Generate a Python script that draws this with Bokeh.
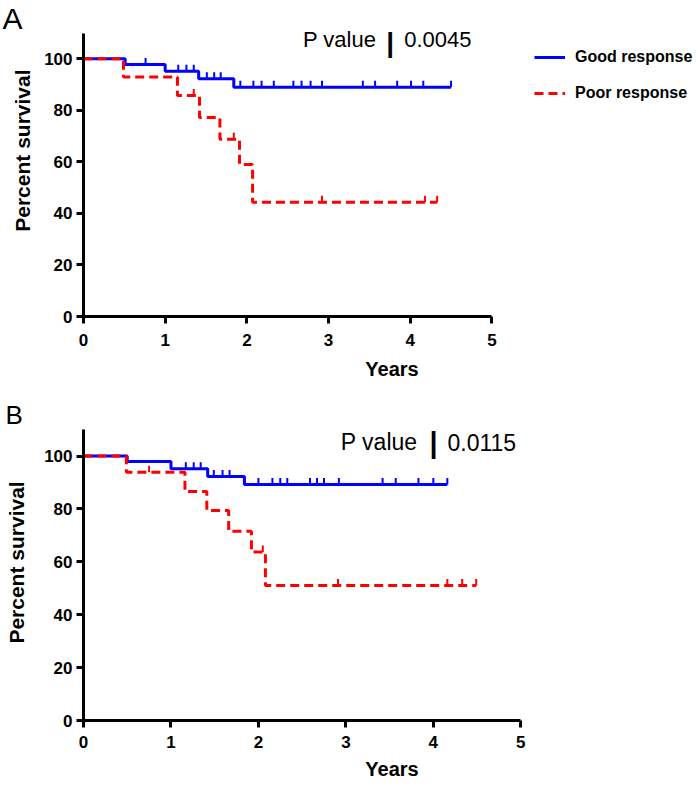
import numpy as np
from bokeh.plotting import figure
from bokeh.layouts import column, row
from bokeh.models import Range1d, FixedTicker, Label, Legend, LegendItem, ColumnDataSource
from bokeh.embed import file_html
from bokeh.resources import INLINE

# ---------------- data ----------------
# Panel A
a_good_t = [0, 0.51, 1.00, 1.41, 1.84, 4.50]
a_good_s = [100, 97.8, 95.2, 92.3, 89.0, 89.0]
a_good_cens = [0.76, 1.16, 1.26, 1.35, 1.51, 1.60, 1.68, 1.92, 2.08, 2.18, 2.33,
               2.57, 2.67, 2.78, 2.92, 3.42, 3.57, 3.84, 4.01, 4.16, 4.50]
a_poor_t = [0, 0.49, 1.15, 1.42, 1.67, 1.91, 2.07, 4.33]
a_poor_s = [100, 92.9, 85.8, 77.2, 68.8, 59.0, 44.3, 44.3]
a_poor_cens = [1.35, 1.84, 2.92, 4.18, 4.33]
a_pvalue = "0.0045"

# Panel B
b_good_t = [0, 0.50, 1.00, 1.42, 1.84, 4.16]
b_good_s = [100, 98.0, 95.2, 92.3, 89.3, 89.3]
b_good_cens = [1.17, 1.26, 1.34, 1.49, 1.59, 1.67, 2.00, 2.16, 2.25, 2.33, 2.59,
               2.67, 2.75, 2.92, 3.42, 3.57, 3.83, 4.00, 4.16]
b_poor_t = [0, 0.49, 1.16, 1.41, 1.66, 1.92, 2.08, 4.49]
b_poor_s = [100, 93.9, 86.6, 79.4, 71.6, 63.7, 51.1, 51.1]
b_poor_cens = [0.75, 2.05, 2.91, 4.16, 4.33, 4.49]
b_pvalue = "0.0115"

x_ticks = [0, 1, 2, 3, 4, 5]
y_ticks = [0, 20, 40, 60, 80, 100]
series_labels = ["Good response", "Poor response"]
x_title = "Years"
y_title = "Percent survival"

# ---------------- style ----------------
FONT = "Liberation Sans"
BLUE = "#0000ff"
RED = "#ff0000"
SIDE_W = 38
ROT_SHIFT = 44  # empirical offset of rotated, left-aligned label


def surv_at(ts, ss, c):
    ts = np.asarray(ts)
    ss = np.asarray(ss)
    idx = np.searchsorted(ts, c, side="right") - 1
    return ss[idx]


def make_side(height, letter, letter_x, letter_base, letter_size, ylab_x, ylab_start):
    """Narrow strip left of the axis holding the panel letter and the y title."""
    s = figure(width=SIDE_W, height=height, x_range=Range1d(0, SIDE_W),
               y_range=Range1d(0, height), x_axis_type=None, y_axis_type=None,
               output_backend="svg", toolbar_location=None,
               min_border_left=0, min_border_right=0, min_border_top=0,
               min_border_bottom=0)
    s.outline_line_color = None
    s.grid.visible = False
    s.background_fill_color = "white"
    s.border_fill_color = "white"
    s.add_layout(Label(x=letter_x, y=height - letter_base, text=letter,
                       text_font=FONT, text_font_size=letter_size,
                       text_color="black", text_baseline="alphabetic",
                       text_align="left"))
    s.add_layout(Label(x=ylab_x, y=height - ylab_start - ROT_SHIFT, text=y_title,
                       angle=np.pi / 2,
                       text_font=FONT, text_font_size="21px", text_font_style="bold",
                       text_color="black", text_baseline="middle",
                       text_align="left"))
    return s


def make_panel(good_t, good_s, good_c, poor_t, poor_s, poor_c, pval,
               xend, yend, height, bottom, tick_px, xlab_so, xtick_so,
               pv_x, pv_y, bar_x, bar_y, num_x, pv_size, bar_size, legend=False):
    p = figure(width=700 - SIDE_W, height=height,
               x_range=Range1d(0, xend), y_range=Range1d(0, yend),
               output_backend="svg", toolbar_location=None,
               min_border_left=83 - SIDE_W, min_border_right=0, min_border_top=0,
               min_border_bottom=bottom)
    p.outline_line_color = None
    p.grid.visible = False
    p.background_fill_color = "white"
    p.border_fill_color = "white"

    yscale = (height - bottom) / yend
    dy = tick_px / yscale

    # good response
    gl = p.step(good_t, good_s, mode="after", line_color=BLUE, line_width=3)
    gy = [float(surv_at(good_t, good_s, c)) for c in good_c]
    gsrc = ColumnDataSource(dict(x0=good_c, y0=gy, x1=good_c, y1=[v + dy for v in gy]))
    p.segment("x0", "y0", "x1", "y1", source=gsrc, line_color=BLUE, line_width=2)

    # poor response
    pl = p.step(poor_t, poor_s, mode="after", line_color=RED, line_width=3,
                line_dash="9 5")
    py = [float(surv_at(poor_t, poor_s, c)) for c in poor_c]
    psrc = ColumnDataSource(dict(x0=poor_c, y0=py, x1=poor_c, y1=[v + dy for v in py]))
    p.segment("x0", "y0", "x1", "y1", source=psrc, line_color=RED, line_width=2)

    # axes
    p.xaxis.bounds = (0, 5)
    p.yaxis.bounds = (0, 110)
    p.xaxis.ticker = FixedTicker(ticks=x_ticks)
    p.yaxis.ticker = FixedTicker(ticks=y_ticks)
    p.xaxis.axis_label = x_title
    for ax in (p.xaxis[0], p.yaxis[0]):
        ax.axis_line_width = 3
        ax.axis_line_color = "black"
        ax.major_tick_line_width = 3
        ax.major_tick_line_color = "black"
        ax.major_tick_out = 7
        ax.major_tick_in = 0
        ax.minor_tick_line_color = None
        ax.major_label_text_font = FONT
        ax.major_label_text_font_style = "bold"
        ax.major_label_text_font_size = "17px"
        ax.major_label_text_color = "black"
        ax.axis_label_text_font = FONT
        ax.axis_label_text_font_style = "bold"
        ax.axis_label_text_font_size = "20px"
        ax.axis_label_text_color = "black"
    p.xaxis.major_label_standoff = xtick_so
    p.yaxis.major_label_standoff = 4
    p.xaxis.axis_label_standoff = xlab_so

    # P value annotation
    p.add_layout(Label(x=pv_x, y=pv_y, text="P value", text_font=FONT,
                       text_font_size=pv_size, text_color="black",
                       text_baseline="alphabetic", text_align="left"))
    p.add_layout(Label(x=bar_x, y=bar_y, text="|", text_font=FONT,
                       text_font_size=bar_size, text_font_style="bold",
                       text_color="black", text_baseline="alphabetic",
                       text_align="center"))
    p.add_layout(Label(x=num_x, y=pv_y, text=pval, text_font=FONT,
                       text_font_size=pv_size, text_color="black",
                       text_baseline="alphabetic", text_align="left"))

    if legend:
        gd = p.scatter(x=[], y=[], marker="dash", angle=np.pi / 2, size=9,
                       line_color=BLUE, line_width=2)
        pd_ = p.scatter(x=[], y=[], marker="dash", angle=np.pi / 2, size=9,
                        line_color=RED, line_width=2)
        lg = Legend(items=[LegendItem(label=series_labels[0], renderers=[gl, gd]),
                           LegendItem(label=series_labels[1], renderers=[pl, pd_])],
                    location=(451, 213), glyph_width=31, glyph_height=20,
                    label_height=20, spacing=16, padding=0, margin=0,
                    label_standoff=10, border_line_color=None,
                    background_fill_alpha=0,
                    label_text_font=FONT, label_text_font_style="bold",
                    label_text_font_size="16px", label_text_color="black")
        p.add_layout(lg)
    return p


HA, HB = 384, 402

sA = make_side(HA, "A", letter_x=2, letter_base=22, letter_size="30px",
               ylab_x=21.5, ylab_start=237)
pA = make_panel(a_good_t, a_good_s, a_good_cens, a_poor_t, a_poor_s, a_poor_cens,
                a_pvalue,
                xend=617 / 81.68, yend=316 / 2.577, height=HA, bottom=68,
                tick_px=6.5, xlab_so=9, xtick_so=10,
                pv_x=2.686, pv_y=107.4, bar_x=3.755, bar_y=106.2, num_x=3.926,
                pv_size="22px", bar_size="28px", legend=True)

sB = make_side(HB, "B", letter_x=5, letter_base=420 - HA, letter_size="26px",
               ylab_x=16, ylab_start=650 - HA)
pB = make_panel(b_good_t, b_good_s, b_good_cens, b_poor_t, b_poor_s, b_poor_cens,
                b_pvalue,
                xend=617 / 87.46, yend=336 / 2.644, height=HB, bottom=66,
                tick_px=6.5, xlab_so=7, xtick_so=8,
                pv_x=2.942, pv_y=105.3, bar_x=4.002, bar_y=104.8, num_x=4.162,
                pv_size="23px", bar_size="29px", legend=False)

layout = column(row(sA, pA, spacing=0), row(sB, pB, spacing=0), spacing=0)
open("out.html", "w").write(file_html(layout, INLINE))
